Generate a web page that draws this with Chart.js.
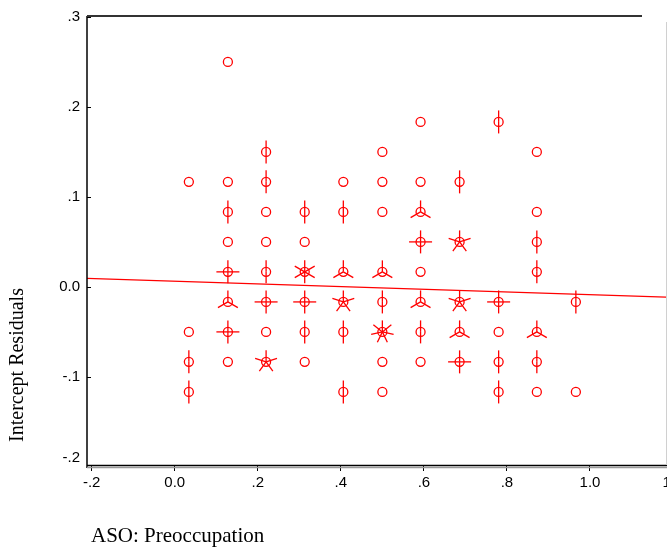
<!DOCTYPE html>
<html>
<head>
<meta charset="utf-8">
<script src="https://cdn.jsdelivr.net/npm/chart.js@4"></script>
<style>
  body { margin: 0; overflow: hidden; background: #fff; }
  #wrap { width: 667px; height: 550px; overflow: hidden; }
</style>
</head>
<body>
<div id="wrap"><canvas id="chart" width="720" height="550"></canvas></div>
<script>
// điểm dữ liệu (x, y, số quan sát trùng = số cánh hoa)
const ptX = [0.128,
  0.592, 0.78,
  0.22, 0.5, 0.872,
  0.034, 0.128, 0.22, 0.406, 0.5, 0.592, 0.686,
  0.128, 0.22, 0.313, 0.406, 0.5, 0.592, 0.872,
  0.128, 0.22, 0.313, 0.592, 0.686, 0.872,
  0.128, 0.22, 0.313, 0.406, 0.5, 0.592, 0.872,
  0.128, 0.22, 0.313, 0.406, 0.5, 0.592, 0.686, 0.78, 0.966,
  0.034, 0.128, 0.22, 0.313, 0.406, 0.5, 0.592, 0.686, 0.78, 0.872,
  0.034, 0.128, 0.22, 0.313, 0.5, 0.592, 0.686, 0.78, 0.872,
  0.034, 0.406, 0.5, 0.78, 0.872, 0.966];
const ptY = [0.25,
  0.1833, 0.1833,
  0.15, 0.15, 0.15,
  0.1167, 0.1167, 0.1167, 0.1167, 0.1167, 0.1167, 0.1167,
  0.0833, 0.0833, 0.0833, 0.0833, 0.0833, 0.0833, 0.0833,
  0.05, 0.05, 0.05, 0.05, 0.05, 0.05,
  0.0167, 0.0167, 0.0167, 0.0167, 0.0167, 0.0167, 0.0167,
  -0.0167, -0.0167, -0.0167, -0.0167, -0.0167, -0.0167, -0.0167, -0.0167, -0.0167,
  -0.05, -0.05, -0.05, -0.05, -0.05, -0.05, -0.05, -0.05, -0.05, -0.05,
  -0.0833, -0.0833, -0.0833, -0.0833, -0.0833, -0.0833, -0.0833, -0.0833, -0.0833,
  -0.1167, -0.1167, -0.1167, -0.1167, -0.1167, -0.1167];
const ptCount = [1,
  1, 2,
  2, 1, 1,
  1, 1, 2, 1, 1, 1, 2,
  2, 1, 2, 2, 1, 3, 1,
  1, 1, 1, 4, 5, 2,
  4, 2, 6, 3, 3, 1, 2,
  3, 4, 4, 5, 2, 3, 5, 4, 2,
  1, 4, 1, 2, 2, 7, 2, 3, 1, 3,
  2, 1, 5, 1, 1, 1, 4, 2, 2,
  2, 2, 1, 2, 1, 1];

// đường hồi quy (2 đầu mút)
const fitX = [-0.212, 1.313];
const fitY = [0.0095, -0.0133];

// nhãn trục
const xTickVals = [-0.2, 0, 0.2, 0.4, 0.6, 0.8, 1.0, 1.2];
const xTickLabels = ['-.2', '0.0', '.2', '.4', '.6', '.8', '1.0', '1.2'];
const yTickVals = [-0.2, -0.1, 0, 0.1, 0.2, 0.3];
const yTickLabels = ['-.2', '-.1', '0.0', '.1', '.2', '.3'];

const RED = '#ff0000';
const tickFont = { family: "'Liberation Sans', Arial, sans-serif", size: 15 };
const serif = "'Liberation Serif', 'Times New Roman', serif";

// vẽ cánh hoa (sunflower) quanh mỗi điểm
const petals = {
    id: 'petals',
    afterDatasetsDraw(chart) {
        const meta = chart.getDatasetMeta(1);
        const ctx = chart.ctx;
        ctx.save();
        ctx.strokeStyle = RED;
        ctx.lineWidth = 1.3;
        meta.data.forEach((p, i) => {
            const n = ptCount[i];
            if (n < 2) return;
            for (let k = 0; k < n; k++) {
                const a = -Math.PI / 2 + k * 2 * Math.PI / n;
                ctx.beginPath();
                ctx.moveTo(p.x, p.y);
                ctx.lineTo(p.x + 11.5 * Math.cos(a), p.y + 11.5 * Math.sin(a));
                ctx.stroke();
            }
        });
        ctx.restore();
    }
};

// khung, vạch chia trục y, nhãn -.2 và tiêu đề trục
const frame = {
    id: 'frame',
    afterDraw(chart) {
        const ctx = chart.ctx;
        const a = chart.chartArea;
        const ys = chart.scales.y;
        ctx.save();
        ctx.lineWidth = 1.5;
        ctx.strokeStyle = '#000';
        ctx.beginPath();
        ctx.moveTo(a.left, a.top);
        ctx.lineTo(a.left, a.bottom + 2);
        ctx.stroke();

        ctx.strokeStyle = '#333';
        ctx.lineWidth = 2;
        ctx.beginPath();
        ctx.moveTo(a.left, a.top);
        ctx.lineTo(642, a.top);
        ctx.stroke();

        ctx.lineWidth = 1.5;
        ctx.strokeStyle = '#000';
        ctx.beginPath();
        ctx.moveTo(a.left, a.bottom - 0.5);
        ctx.lineTo(chart.width, a.bottom - 0.5);
        ctx.stroke();
        ctx.strokeStyle = '#9a9a9a';
        ctx.beginPath();
        ctx.moveTo(a.left, a.bottom + 1.5);
        ctx.lineTo(chart.width, a.bottom + 1.5);
        ctx.stroke();

        ctx.strokeStyle = '#d0d0d0';
        ctx.lineWidth = 1;
        ctx.beginPath();
        ctx.moveTo(666.5, 22);
        ctx.lineTo(666.5, a.bottom - 1);
        ctx.stroke();

        // vạch chia trục y hướng vào trong
        ctx.strokeStyle = '#000';
        ctx.lineWidth = 1;
        yTickVals.forEach(v => {
            if (v < ys.min) return;
            const y = Math.round(ys.getPixelForValue(v)) + 0.5;
            ctx.beginPath();
            ctx.moveTo(a.left, y);
            ctx.lineTo(a.left + 4, y);
            ctx.stroke();
        });

        ctx.fillStyle = '#000';
        ctx.font = `15px ${tickFont.family}`;
        ctx.textAlign = 'right';
        ctx.textBaseline = 'middle';
        ctx.fillText(yTickLabels[0], a.left - 7, ys.getPixelForValue(-0.2) - 9);

        ctx.font = `20px ${serif}`;
        ctx.textAlign = 'center';
        ctx.save();
        ctx.translate(18, 365);
        ctx.rotate(-Math.PI / 2);
        ctx.fillText('Intercept Residuals', 0, 0);
        ctx.restore();

        ctx.font = `21px ${serif}`;
        ctx.textAlign = 'left';
        ctx.textBaseline = 'alphabetic';
        ctx.fillText('ASO: Preoccupation', 91, 542);
        ctx.restore();
    }
};

const points = ptX.map((x, i) => ({ x: x, y: ptY[i] }));
const fitLine = fitX.map((x, i) => ({ x: x, y: fitY[i] }));

new Chart(document.getElementById('chart'), {
    type: 'scatter',
    data: {
        datasets: [
            {
                type: 'line',
                data: fitLine,
                borderColor: RED,
                borderWidth: 1.3,
                pointRadius: 0,
                fill: false
            },
            {
                data: points,
                pointStyle: 'circle',
                pointRadius: 4.5,
                pointHoverRadius: 4.5,
                borderColor: RED,
                backgroundColor: 'rgba(0,0,0,0)',
                borderWidth: 1.3
            }
        ]
    },
    options: {
        responsive: false,
        animation: false,
        events: [],
        layout: { padding: { top: 13, left: 0, right: 0, bottom: 0 }, autoPadding: false },
        plugins: {
            legend: { display: false },
            tooltip: { enabled: false }
        },
        scales: {
            x: {
                type: 'linear',
                min: -0.2113,
                max: 1.3131,
                afterFit: s => { s.height = 84; },
                afterBuildTicks: s => { s.ticks = xTickVals.map(v => ({ value: v })); },
                border: { display: false },
                grid: { drawOnChartArea: false, drawTicks: true, tickLength: 5, color: '#000', lineWidth: 1 },
                ticks: {
                    font: tickFont,
                    color: '#000',
                    padding: 3,
                    maxRotation: 0,
                    autoSkip: false,
                    callback: (v, i) => xTickLabels[i]
                }
            },
            y: {
                type: 'linear',
                min: -0.199,
                max: 0.301,
                afterFit: s => { s.width = 87; },
                afterBuildTicks: s => { s.ticks = yTickVals.map(v => ({ value: v })); },
                border: { display: false },
                grid: { display: false, drawTicks: false },
                ticks: {
                    font: tickFont,
                    color: '#000',
                    padding: 7,
                    autoSkip: false,
                    callback: (v, i) => (i === 0 ? '' : yTickLabels[i])
                }
            }
        }
    },
    plugins: [petals, frame]
});
</script>
</body>
</html>
